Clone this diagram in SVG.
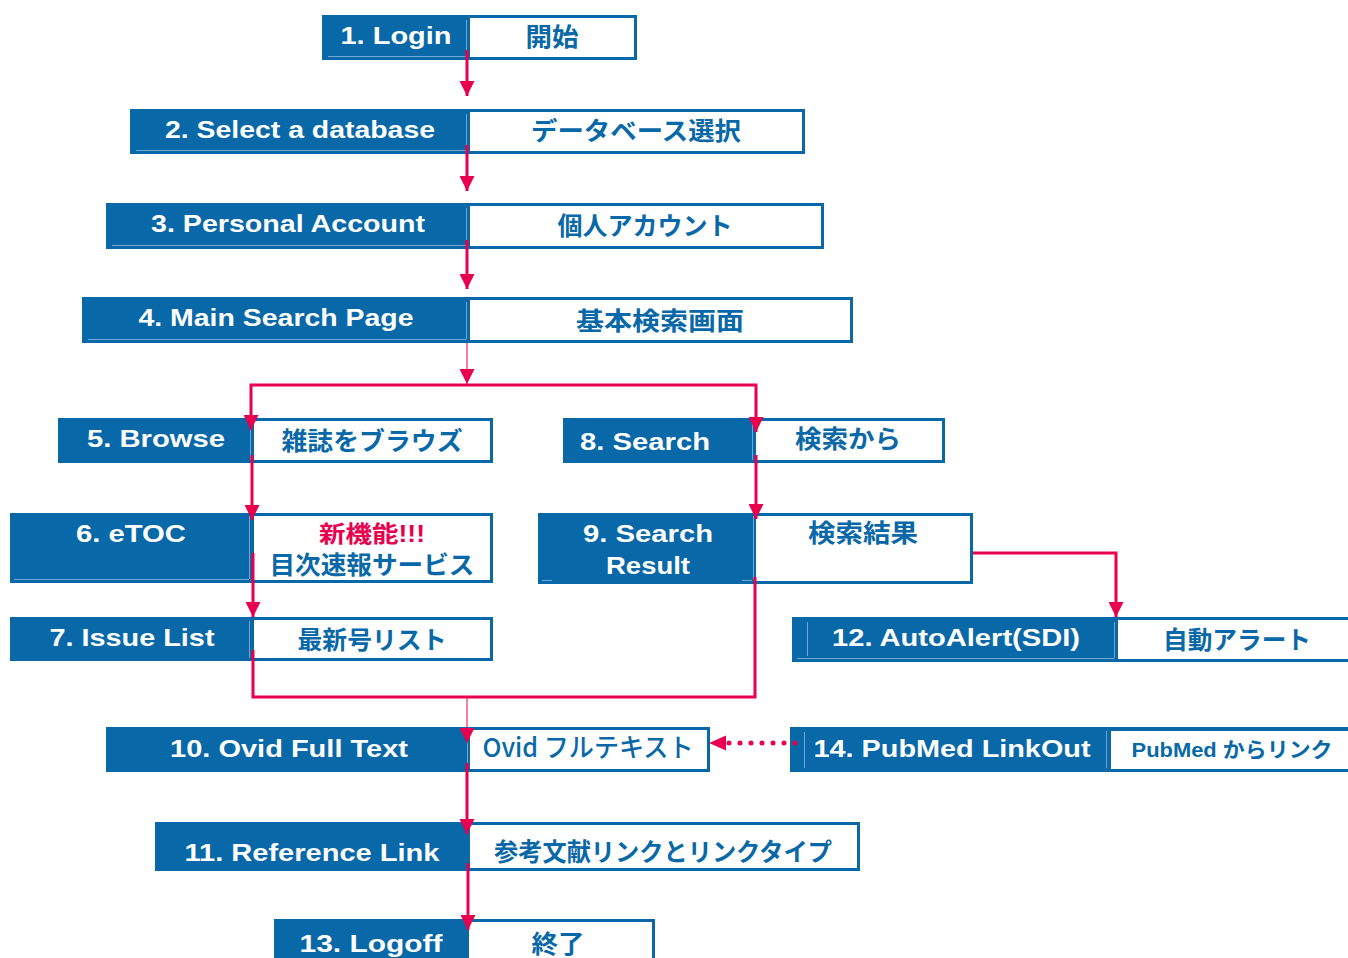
<svg xmlns="http://www.w3.org/2000/svg" width="1348" height="958" viewBox="0 0 1348 958">
<style>
.bl{fill:#0868A8}
.wh{fill:#fff}
.ln{stroke:#6FA6D3;stroke-width:1;fill:none}
.en{font-family:"Liberation Sans",Arial,sans-serif;font-weight:bold;font-size:24px;fill:#fff;text-anchor:middle}
.jp{font-family:"Liberation Sans","Noto Sans CJK JP",sans-serif;font-weight:bold;font-size:25px;fill:#0868A8;text-anchor:middle}
.rd{fill:#E8004E}
.c{stroke:#E8004E;stroke-width:3;fill:none;marker-end:url(#ah)}
.p{stroke:#E8004E;stroke-width:3;fill:none}
.t{stroke:#E8004E;stroke-width:1;fill:none;marker-end:url(#ah)}
</style>
<defs>
<marker id="ah" viewBox="0 0 15 15" refX="15" refY="7.5" markerWidth="15" markerHeight="15" markerUnits="userSpaceOnUse" orient="auto">
<path d="M0,0 L15,7.5 L0,15 z" fill="#E8004E"/>
</marker>
</defs>
<rect width="1348" height="958" fill="#fff"/>

<g id="n1">
<rect class="bl" x="322" y="15" width="315" height="45"/>
<rect class="wh" x="470" y="18" width="164" height="39"/>
<path class="ln" d="M328,56.5 H466 M466.5,20 V56"/>
<text class="en" x="396" y="44" textLength="111" lengthAdjust="spacingAndGlyphs">1. Login</text>
<text class="jp" x="552" y="46" textLength="53" lengthAdjust="spacingAndGlyphs">開始</text>
</g>

<g id="n2">
<rect class="bl" x="130" y="109" width="675" height="45"/>
<rect class="wh" x="470" y="112" width="332" height="39"/>
<path class="ln" d="M136,150.5 H466 M466.5,114 V150"/>
<text class="en" x="300" y="138" textLength="270" lengthAdjust="spacingAndGlyphs">2. Select a database</text>
<text class="jp" x="636" y="140" textLength="210" lengthAdjust="spacingAndGlyphs">データベース選択</text>
</g>

<g id="n3">
<rect class="bl" x="106" y="203" width="718" height="46"/>
<rect class="wh" x="470" y="206" width="351" height="40"/>
<path class="ln" d="M112,245.5 H466 M466.5,208 V245"/>
<text class="en" x="288" y="232" textLength="274" lengthAdjust="spacingAndGlyphs">3. Personal Account</text>
<text class="jp" x="645" y="235" textLength="175" lengthAdjust="spacingAndGlyphs">個人アカウント</text>
</g>

<g id="n4">
<rect class="bl" x="82" y="297" width="771" height="46"/>
<rect class="wh" x="470" y="300" width="380" height="40"/>
<path class="ln" d="M88,339.5 H466 M466.5,302 V339"/>
<text class="en" x="276" y="326" textLength="275" lengthAdjust="spacingAndGlyphs">4. Main Search Page</text>
<text class="jp" x="660" y="330" textLength="168" lengthAdjust="spacingAndGlyphs">基本検索画面</text>
</g>

<g id="n5">
<rect class="bl" x="58" y="418" width="435" height="45"/>
<rect class="wh" x="254" y="421" width="236" height="39"/>
<path class="ln" d="M250.5,421 V460"/>
<text class="en" x="156" y="447" textLength="138" lengthAdjust="spacingAndGlyphs">5. Browse</text>
<text class="jp" x="372" y="450" textLength="181" lengthAdjust="spacingAndGlyphs">雑誌をブラウズ</text>
</g>

<g id="n8">
<rect class="bl" x="563" y="418" width="382" height="45"/>
<rect class="wh" x="756" y="421" width="186" height="39"/>
<path class="ln" d="M752.5,421 V460"/>
<text class="en" x="645" y="450" textLength="130" lengthAdjust="spacingAndGlyphs">8. Search</text>
<text class="jp" x="848" y="448" textLength="106" lengthAdjust="spacingAndGlyphs">検索から</text>
</g>

<g id="n6">
<rect class="bl" x="10" y="513" width="483" height="70"/>
<rect class="wh" x="254" y="516" width="236" height="64"/>
<path class="ln" d="M14,579.5 H249 M249.5,516 V579"/>
<text class="en" x="131" y="542" textLength="110" lengthAdjust="spacingAndGlyphs">6. eTOC</text>
<text class="jp rd" x="372" y="542" textLength="106" lengthAdjust="spacingAndGlyphs" style="font-size:23px">新機能!!!</text>
<text class="jp" x="372" y="574" textLength="205" lengthAdjust="spacingAndGlyphs">目次速報サービス</text>
</g>

<g id="n9">
<rect class="bl" x="538" y="513" width="435" height="71"/>
<rect class="wh" x="756" y="516" width="214" height="65"/>
<path class="ln" d="M542,580.5 H552 M742,580.5 H752 M753.5,516 V580"/>
<text class="en" x="648" y="542" textLength="130" lengthAdjust="spacingAndGlyphs">9. Search</text>
<text class="en" x="648" y="574" textLength="84" lengthAdjust="spacingAndGlyphs">Result</text>
<text class="jp" x="863" y="542" textLength="110" lengthAdjust="spacingAndGlyphs">検索結果</text>
</g>

<g id="n7">
<rect class="bl" x="10" y="617" width="483" height="44"/>
<rect class="wh" x="254" y="620" width="236" height="38"/>
<path class="ln" d="M249.5,621 V658"/>
<text class="en" x="132" y="646" textLength="165" lengthAdjust="spacingAndGlyphs">7. Issue List</text>
<text class="jp" x="372" y="649" textLength="149" lengthAdjust="spacingAndGlyphs">最新号リスト</text>
</g>

<g id="n12">
<rect class="bl" x="792" y="617" width="560" height="45"/>
<rect class="wh" x="1118" y="620" width="240" height="39"/>
<path class="ln" d="M807.5,622 V656 M797,658.5 H1114 M1114.5,622 V658"/>
<text class="en" x="956" y="646" textLength="248" lengthAdjust="spacingAndGlyphs">12. AutoAlert(SDI)</text>
<text class="jp" x="1237" y="649" textLength="148" lengthAdjust="spacingAndGlyphs">自動アラート</text>
</g>

<g id="n10">
<rect class="bl" x="106" y="727" width="604" height="45"/>
<rect class="wh" x="470" y="730" width="237" height="39"/>
<path class="ln" d="M467.5,730 V769"/>
<text class="en" x="289" y="757" textLength="238" lengthAdjust="spacingAndGlyphs">10. Ovid Full Text</text>
<text class="jp" x="588" y="757" textLength="211" lengthAdjust="spacingAndGlyphs" style="font-family:'Noto Sans CJK JP',sans-serif;font-weight:500;font-size:26px">Ovid フルテキスト</text>
</g>

<g id="n14">
<rect class="bl" x="790" y="727" width="562" height="45"/>
<rect class="wh" x="1111" y="731" width="245" height="38"/>
<path class="ln" d="M804.5,732 V768 M1106.5,731 V768"/>
<text class="en" x="952" y="757" textLength="277" lengthAdjust="spacingAndGlyphs">14. PubMed LinkOut</text>
<text class="jp" x="1232" y="757" textLength="201" lengthAdjust="spacingAndGlyphs" style="font-size:21px">PubMed からリンク</text>
</g>

<g id="n11">
<rect class="bl" x="155" y="822" width="705" height="49"/>
<rect class="wh" x="470" y="825" width="387" height="43"/>
<text class="en" x="312" y="861" textLength="255" lengthAdjust="spacingAndGlyphs">11. Reference Link</text>
<text class="jp" x="663" y="861" textLength="338" lengthAdjust="spacingAndGlyphs">参考文献リンクとリンクタイプ</text>
</g>

<g id="n13">
<rect class="bl" x="274" y="919" width="381" height="45"/>
<rect class="wh" x="469" y="922" width="183" height="45"/>
<text class="en" x="371" y="952" textLength="143" lengthAdjust="spacingAndGlyphs">13. Logoff</text>
<text class="jp" x="558" y="953" textLength="53" lengthAdjust="spacingAndGlyphs">終了</text>
</g>

<g id="connectors">
<path class="c" d="M467,50 V96"/>
<path class="c" d="M467,145 V191"/>
<path class="c" d="M467,240 V289"/>
<path class="t" d="M467,343 V384"/>
<path class="c" d="M467,385 H251 V430"/>
<path class="c" d="M467,385 H756 V432"/>
<path class="c" d="M252,455 V520"/>
<path class="c" d="M253,553 V617"/>
<path class="p" d="M253,650 V697 H755 V577"/>
<path class="t" d="M467,697 V743"/>
<path class="c" d="M756,455 V519"/>
<path class="c" d="M973,553 H1116 V617"/>
<path d="M795,743 H728" stroke="#E8004E" stroke-width="5" stroke-linecap="round" stroke-dasharray="0 11" fill="none"/>
<path d="M726,735.5 L709,743 L726,750.5 z" fill="#E8004E"/>
<path class="c" d="M467,763 V834"/>
<path class="c" d="M468,863 V930"/>
</g>
</svg>
